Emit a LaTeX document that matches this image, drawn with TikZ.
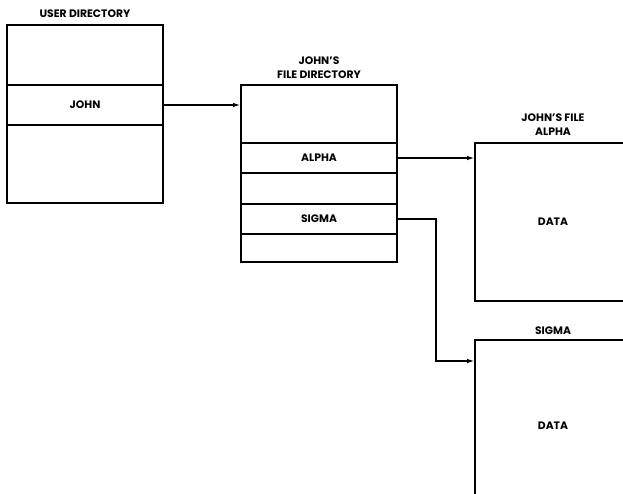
\documentclass[tikz,border=0pt]{standalone}
\usepackage{fontspec}
\setmainfont{Poppins}
\usetikzlibrary{arrows.meta,positioning}

\begin{document}
\begin{tikzpicture}[
  x=1pt, y=-1pt,
  font=\fontsize{10.8}{14}\selectfont\bfseries,
  cell/.style={draw, line width=1.6pt, minimum width=156pt, inner sep=0pt, outer sep=0pt},
  datafile/.style={cell, anchor=north west},
  arr/.style={-{Latex[length=8pt,width=4.5pt]}, line width=1.6pt},
  head/.style={align=center, inner sep=0pt}
]
\useasboundingbox (0,0) rectangle (623,494);
\clip (0,0) rectangle (623,494);
% user directory
\node[cell, minimum height=60pt, anchor=north west] (utop) at (7,25) {};
\node[cell, minimum height=40pt, below=0pt of utop] (john) {JOHN};
\node[cell, minimum height=78pt, below=0pt of john] (ubot) {};
\node[head, above=7pt of utop] (utitle) {USER DIRECTORY};
% john's file directory
\node[cell, minimum height=58pt, anchor=north west] (ftop) at (241,85) {};
\node[cell, minimum height=30pt, below=0pt of ftop] (alpha) {ALPHA};
\node[cell, minimum height=31pt, below=0pt of alpha] (fgap) {};
\node[cell, minimum height=30pt, below=0pt of fgap] (sigma) {SIGMA};
\node[cell, minimum height=28pt, below=0pt of sigma] (fbot) {};
\node[head, above=6pt of ftop] (ftitle) {JOHN'S\\FILE DIRECTORY};
% data files
\node[datafile, minimum height=158pt] (adata) at (475,143) {DATA};
\node[head, above=7pt of adata] (atitle) {JOHN'S FILE\\ALPHA};
\node[datafile, minimum height=172pt] (sdata) at (475,340) {DATA};
\node[head, above=5pt of sdata] (stitle) {SIGMA};
% pointers
\coordinate (sbend) at (436,361);
\draw[arr] (john.east) -- (john.east -| ftop.west);
\draw[arr] (alpha.east) -- (alpha.east -| adata.west);
\draw[arr] (sigma.east) -| (sbend) -- (sbend -| sdata.west);
\end{tikzpicture}
\end{document}
